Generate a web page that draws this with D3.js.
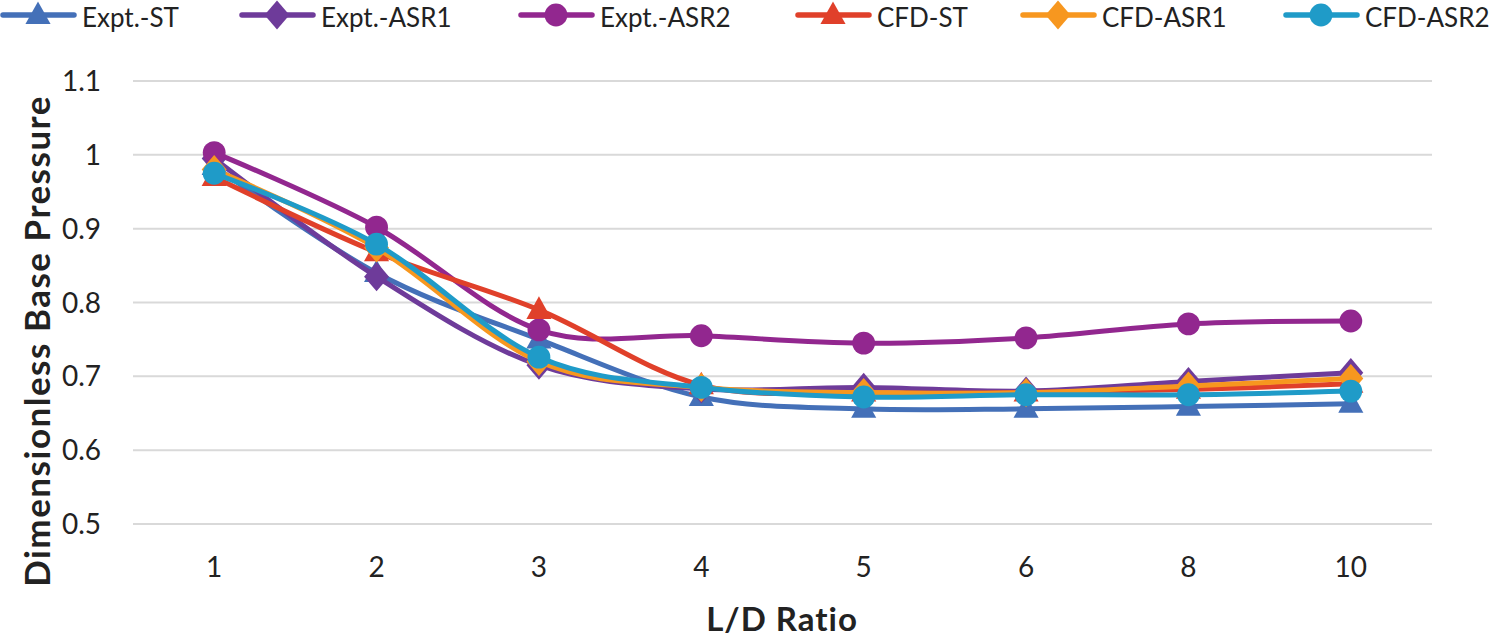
<!DOCTYPE html>
<html><head><meta charset="utf-8">
<script src="https://cdn.jsdelivr.net/npm/d3@7"></script>
<style>body{margin:0;background:#fff}svg{display:block}text{font-family:Lato,"Open Sans",sans-serif;fill:#222}</style>
</head><body><svg id="c" width="1498" height="640"></svg>
<script>
const categories = ["1","2","3","4","5","6","8","10"];
const yTicks = [0.5,0.6,0.7,0.8,0.9,1,1.1];
const seriesNames = ["Expt.-ST","Expt.-ASR1","Expt.-ASR2","CFD-ST","CFD-ASR1","CFD-ASR2"];
const exptST   = [0.985,0.840,0.750,0.672,0.656,0.656,0.659,0.663];
const exptASR1 = [0.995,0.835,0.715,0.683,0.685,0.680,0.693,0.705];
const exptASR2 = [1.003,0.902,0.763,0.755,0.745,0.752,0.771,0.775];
const cfdST    = [0.970,0.868,0.790,0.688,0.678,0.678,0.682,0.690];
const cfdASR1  = [0.980,0.874,0.720,0.685,0.678,0.678,0.687,0.697];
const cfdASR2  = [0.975,0.879,0.726,0.685,0.672,0.675,0.675,0.680];
const colors = ["#4470B8","#6E3B9A","#92278F","#E0402A","#F7971F","#1F9BC8"];
const markers = ["triangle","diamond","circle","triangle","diamond","circle"];
const values = [exptST,exptASR1,exptASR2,cfdST,cfdASR1,cfdASR2];

const svg = d3.select("#c");
const pLeft=133,pRight=1432,pTop=81,pBottom=524;
const x = d3.scalePoint().domain(categories).range([pLeft,pRight]).padding(0.5);
const y = d3.scaleLinear().domain([0.5,1.1]).range([pBottom,pTop]);

svg.append("g").selectAll("line").data(yTicks).join("line")
  .attr("x1",pLeft).attr("x2",pRight).attr("y1",d=>y(d)).attr("y2",d=>y(d))
  .attr("stroke","#D9D9D9").attr("stroke-width",2);
svg.append("g").selectAll("text").data(yTicks).join("text")
  .attr("x",101).attr("y",d=>y(d)).attr("dy","0.36em").attr("text-anchor","end")
  .attr("font-size",28).text(d=>d3.format("")(d));
svg.append("g").selectAll("text").data(categories).join("text")
  .attr("x",d=>x(d)).attr("y",567).attr("dy","0.36em").attr("text-anchor","middle")
  .attr("font-size",28).text(d=>d);
svg.append("text").attr("x",782).attr("y",619).attr("dy","0.36em").attr("text-anchor","middle")
  .attr("font-size",33).attr("font-weight","bold").attr("letter-spacing",1).text("L/D Ratio");
svg.append("text").attr("transform","translate(37,341) rotate(-90)").attr("dy","0.36em").attr("text-anchor","middle")
  .attr("font-size",35).attr("font-weight","bold").attr("letter-spacing",1.5).text("Dimensionless Base Pressure");

const diamondSym = {draw(ctx,size){const w=Math.sqrt(size)*0.72, h=Math.sqrt(size)*0.84;
  ctx.moveTo(0,-h);ctx.lineTo(w,0);ctx.lineTo(0,h);ctx.lineTo(-w,0);ctx.closePath();}};
const triSym = {draw(ctx,size){const a=Math.sqrt(size)*1.5, h=a*0.9;
  ctx.moveTo(0,-h*0.6);ctx.lineTo(a/2,h*0.4);ctx.lineTo(-a/2,h*0.4);ctx.closePath();}};
const sym = {triangle:triSym, diamond:diamondSym, circle:d3.symbolCircle};
const size = {triangle:280, diamond:300, circle:410};
const line = d3.line().x((d,i)=>x(categories[i])).y(d=>y(d)).curve(d3.curveCardinal.tension(0));

values.forEach((vals,s)=>{
  const g = svg.append("g");
  g.append("path").attr("d",line(vals)).attr("fill","none").attr("stroke",colors[s])
    .attr("stroke-width",5).attr("stroke-linecap","round");
  g.selectAll("path.m").data(vals).join("path").attr("class","m")
    .attr("transform",(d,i)=>`translate(${x(categories[i])},${y(d)})`)
    .attr("d",d3.symbol().type(sym[markers[s]]).size(size[markers[s]]))
    .attr("fill",colors[s]);
});

const legX = [0,239,518,795,1020,1283];
const lg = svg.append("g");
seriesNames.forEach((n,s)=>{
  const gx = legX[s], gy=15;
  lg.append("line").attr("x1",gx+3).attr("x2",gx+74).attr("y1",gy).attr("y2",gy)
    .attr("stroke",colors[s]).attr("stroke-width",5.5).attr("stroke-linecap","round");
  lg.append("path").attr("transform",`translate(${gx+38},${gy})`)
    .attr("d",d3.symbol().type(sym[markers[s]]).size(size[markers[s]])).attr("fill",colors[s]);
  lg.append("text").attr("x",gx+82).attr("y",27).attr("font-size",26).text(n);
});
</script></body></html>
